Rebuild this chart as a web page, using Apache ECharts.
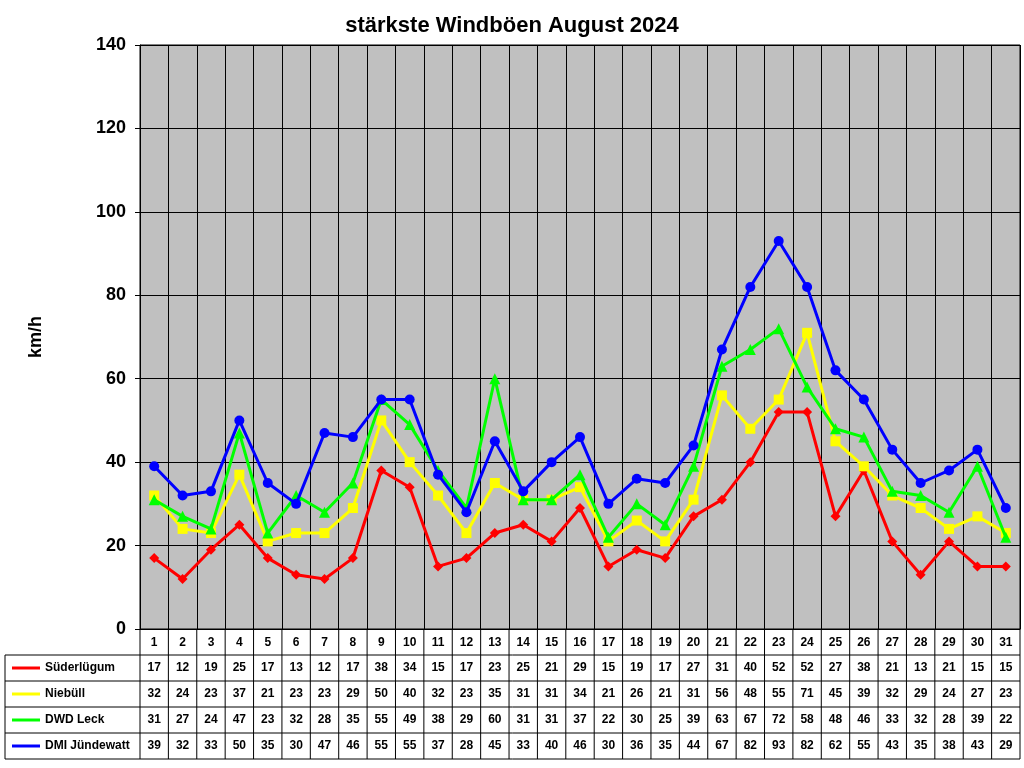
<!DOCTYPE html>
<html><head><meta charset="utf-8">
<script src="https://cdn.jsdelivr.net/npm/echarts@6/dist/echarts.min.js"></script>
<style>html,body{margin:0;padding:0;background:#fff}#c{width:1024px;height:768px}</style>
</head><body><div id="c"></div>
<script>
const days = Array.from({length:31},(_,i)=>String(i+1));
const suederluegum = [17,12,19,25,17,13,12,17,38,34,15,17,23,25,21,29,15,19,17,27,31,40,52,52,27,38,21,13,21,15,15];
const niebuell = [32,24,23,37,21,23,23,29,50,40,32,23,35,31,31,34,21,26,21,31,56,48,55,71,45,39,32,29,24,27,23];
const dwdLeck = [31,27,24,47,23,32,28,35,55,49,38,29,60,31,31,37,22,30,25,39,63,67,72,58,48,46,33,32,28,39,22];
const dmiJuendewatt = [39,32,33,50,35,30,47,46,55,55,37,28,45,33,40,46,30,36,35,44,67,82,93,82,62,55,43,35,38,43,29];
const seriesNames = ['Süderlügum','Niebüll','DWD Leck','DMI Jündewatt'];
const seriesData = [suederluegum,niebuell,dwdLeck,dmiJuendewatt];
const colors = ['#FF0000','#FFFF00','#00FF00','#0000FF'];
const symbols = ['diamond','rect','triangle','circle'];
const symSizes = [10,10,11,10];

const L=140,R=1020,T=45,B=629;
const cw=(R-L)/31;
const rowTop=655,rowH=26;
const g=[];
const line=(x1,y1,x2,y2)=>g.push({type:'line',shape:{x1,y1,x2,y2},style:{stroke:'#000',lineWidth:1},silent:true});
// table borders
for(let r=0;r<=4;r++) line(5,rowTop+r*rowH,R,rowTop+r*rowH);
line(5,rowTop,5,rowTop+4*rowH);
for(let i=0;i<=31;i++) line(L+i*cw,B,L+i*cw,rowTop+4*rowH);
seriesData.forEach((arr,s)=>{
  const cy=rowTop+s*rowH+rowH/2;
  g.push({type:'line',shape:{x1:12,y1:cy,x2:40,y2:cy},style:{stroke:colors[s],lineWidth:3}});
  g.push({type:'text',x:45,y:cy,style:{text:seriesNames[s],font:'bold 12px "Liberation Sans", Arial',fill:'#000',verticalAlign:'middle'}});
  arr.forEach((v,i)=>g.push({type:'text',x:L+(i+0.5)*cw,y:cy,style:{text:String(v),font:'bold 12px "Liberation Sans", Arial',fill:'#000',align:'center',verticalAlign:'middle'}}));
});
const chart=echarts.init(document.getElementById('c'));
chart.setOption({
  animation:false,
  title:{text:'stärkste Windböen August 2024',left:'center',top:10,textStyle:{fontFamily:'Liberation Sans',fontWeight:'bold',fontSize:22,color:'#000'}},
  grid:{left:L,right:1024-R,top:T,bottom:768-B,backgroundColor:'#C0C0C0',show:true,borderColor:'#000',borderWidth:1},
  xAxis:{type:'category',data:days,boundaryGap:true,
    axisLine:{lineStyle:{color:'#000'}},axisTick:{show:false},
    axisLabel:{color:'#000',fontWeight:'bold',fontSize:12,fontFamily:'Liberation Sans',margin:8,interval:0},
    splitLine:{show:true,interval:0,lineStyle:{color:'#000',width:1}}},
  yAxis:{type:'value',min:0,max:140,interval:20,name:'km/h',nameLocation:'middle',nameGap:95,nameRotate:90,
    nameTextStyle:{color:'#000',fontWeight:'bold',fontSize:18,fontFamily:'Liberation Sans'},
    axisLine:{show:true,lineStyle:{color:'#000'}},axisTick:{show:true,length:5,lineStyle:{color:'#000'}},
    axisLabel:{color:'#000',fontWeight:'bold',fontSize:18,fontFamily:'Liberation Sans',margin:14},
    splitLine:{lineStyle:{color:'#000',width:1}}},
  series:seriesData.map((d,s)=>({name:seriesNames[s],type:'line',data:d,symbol:symbols[s],symbolSize:symSizes[s],
    lineStyle:{color:colors[s],width:3},itemStyle:{color:colors[s]},z:2+s})),
  graphic:g
});
</script></body></html>
